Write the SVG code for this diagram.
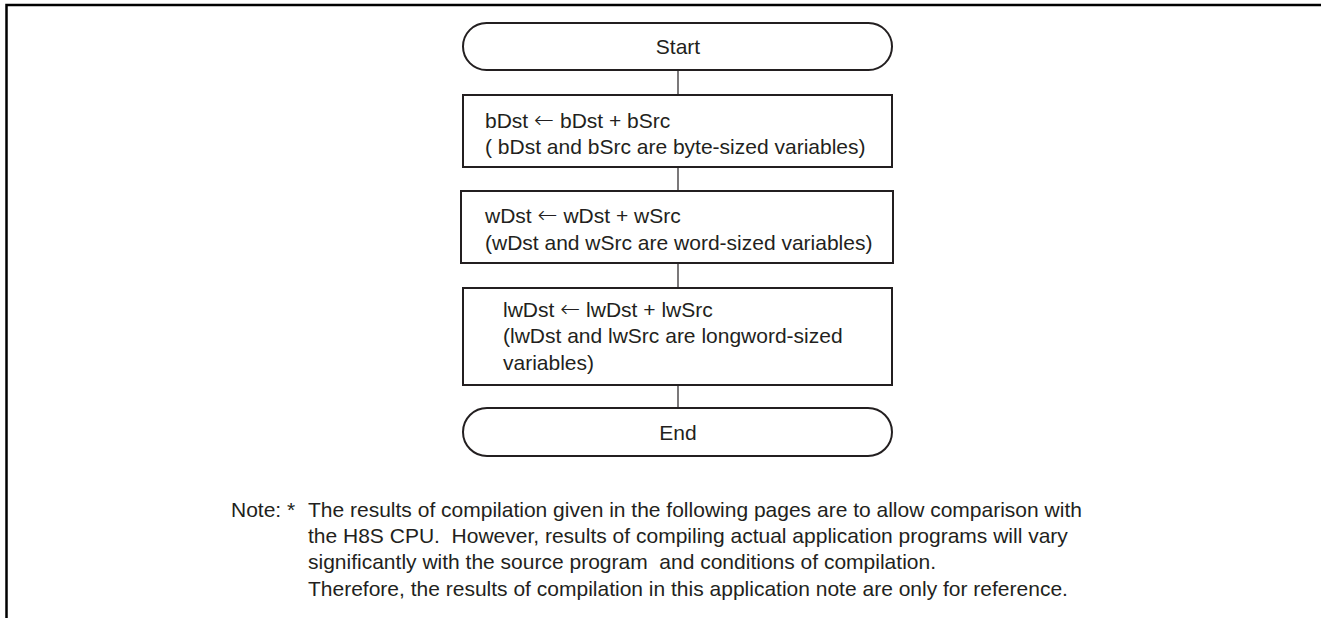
<svg xmlns="http://www.w3.org/2000/svg" width="1321" height="618" viewBox="0 0 1321 618">
<style>
.frame{fill:none;stroke:#000;stroke-width:2.5}
.node{fill:#fff;stroke:#231f20;stroke-width:2}
.conn{stroke:#231f20;stroke-width:1.2;fill:none}
text{font-family:"Liberation Sans",Arial,sans-serif;font-size:21px;fill:#231f20;white-space:pre}
.c{text-anchor:middle}
.ar{font-family:"DejaVu Sans",sans-serif;font-size:24px;font-weight:200}
</style>
<rect width="1321" height="618" fill="#fff"/>
<path class="frame" d="M6.5,618 V5 H1321"/>
<g id="connectors">
<line class="conn" x1="678" y1="70" x2="678" y2="95"/>
<line class="conn" x1="678" y1="167" x2="678" y2="191"/>
<line class="conn" x1="678" y1="263" x2="678" y2="288"/>
<line class="conn" x1="678" y1="385" x2="678" y2="408"/>
</g>
<g id="start">
<rect class="node" x="463" y="23" width="429" height="47" rx="23.5" ry="23.5"/>
<text class="c" x="678" y="54">Start</text>
</g>
<g id="step1">
<rect class="node" x="463" y="95" width="429" height="72"/>
<text x="485" y="127.5">bDst <tspan class="ar">←</tspan> bDst + bSrc</text>
<text x="485" y="154">( bDst and bSrc are byte-sized variables)</text>
</g>
<g id="step2">
<rect class="node" x="461" y="191" width="432" height="72"/>
<text x="485" y="223">wDst <tspan class="ar">←</tspan> wDst + wSrc</text>
<text x="485" y="250">(wDst and wSrc are word-sized variables)</text>
</g>
<g id="step3">
<rect class="node" x="463" y="288" width="429" height="97"/>
<text x="503" y="316.5">lwDst <tspan class="ar">←</tspan> lwDst + lwSrc</text>
<text x="503" y="343">(lwDst and lwSrc are longword-sized</text>
<text x="503" y="370">variables)</text>
</g>
<g id="end">
<rect class="node" x="463" y="408" width="429" height="48" rx="24" ry="24"/>
<text class="c" x="678" y="440">End</text>
</g>
<g id="note">
<text x="231" y="517">Note: *</text>
<text x="308" y="517">The results of compilation given in the following pages are to allow comparison with</text>
<text x="308" y="543" xml:space="preserve">the H8S CPU.  However, results of compiling actual application programs will vary</text>
<text x="308" y="569" xml:space="preserve">significantly with the source program  and conditions of compilation.</text>
<text x="308" y="596">Therefore, the results of compilation in this application note are only for reference.</text>
</g>
</svg>
